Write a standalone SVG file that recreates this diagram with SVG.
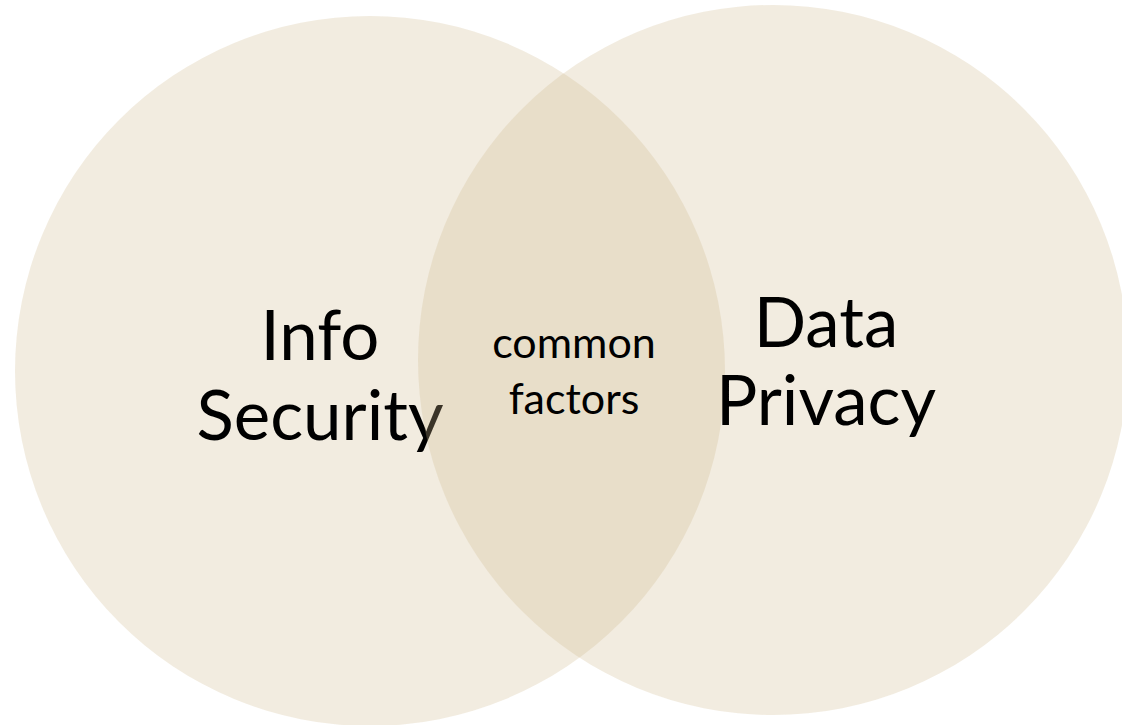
<svg xmlns="http://www.w3.org/2000/svg" width="1122" height="725" viewBox="0 0 1122 725">
<style>
.c{fill:#CFBB90;fill-opacity:0.28}
.t{font-family:Lato,"Open Sans","Liberation Sans",sans-serif;fill:#000;text-anchor:middle}
.big{font-size:69px}
.small{font-size:43px}
</style>
<rect width="1122" height="725" fill="#fff"/>
<g id="info-security">
<circle class="c" cx="370" cy="371" r="355"/>
<text class="t big" x="320" y="360">Info</text>
<text class="t big" x="320" y="440">Security</text>
</g>
<g id="data-privacy">
<circle class="c" cx="773" cy="360" r="355"/>
<text class="t big" x="826" y="347">Data</text>
<text class="t big" x="826" y="425">Privacy</text>
</g>
<g id="common-factors">
<text class="t small" x="574" y="358">common</text>
<text class="t small" x="574" y="414">factors</text>
</g>
</svg>
